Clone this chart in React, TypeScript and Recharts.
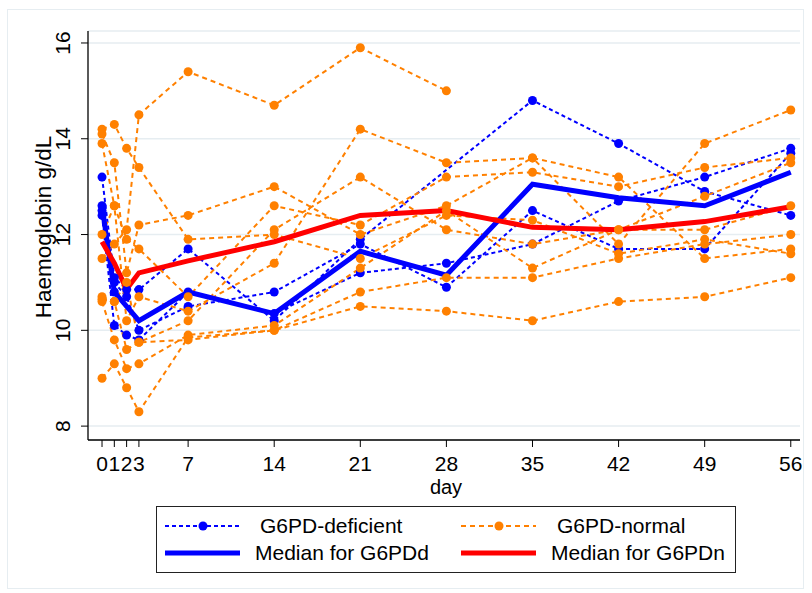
import React from 'react';
import { LineChart, Line, XAxis, YAxis, CartesianGrid, Legend } from 'recharts';

// ---- data ----
const days = [0, 1, 2, 3, 7, 14, 21, 28, 35, 42, 49, 56];
const xTicks = [0, 1, 2, 3, 7, 14, 21, 28, 35, 42, 49, 56];
const yTicks = [8, 10, 12, 14, 16];

// G6PD-deficient patients
const defA = [13.2, 11.1, 10.85, 10.85, 11.7, 10.2, 11.9, null, 14.8, 13.9, 12.9, 12.4];
const defB = [12.6, 11.0, 10.7, 10.0, 10.5, 10.8, 11.8, 10.9, 12.5, 11.7, 11.7, 13.7];
const defC = [12.4, 10.1, 9.9, 9.8, 10.8, 10.35, 11.2, 11.4, 11.8, 12.7, 13.2, 13.8];
const defD = [12.5, 10.8, null, null, null, null, null, null, null, null, null, null];

// G6PD-normal patients
const norA = [11.5, 11.8, 12.1, 14.5, 15.4, 14.7, 15.9, 15.0, null, null, null, null];
const norB = [14.2, 14.3, 13.8, 13.4, 11.9, 12.0, 11.5, 12.4, 12.3, 11.6, 11.9, 11.6];
const norC = [14.1, 13.5, 11.2, 12.2, 12.4, 13.0, 12.0, 12.6, 13.6, 13.2, 11.5, 11.7];
const norD = [13.9, 12.6, 11.9, 11.7, 10.7, 12.6, 12.2, 13.2, 13.3, 13.0, 13.4, 13.6];
const norE = [12.0, 12.6, 10.2, 10.7, 10.4, 11.4, 14.2, 13.5, 13.6, 11.8, 13.9, 14.6];
const norF = [10.7, 10.6, 9.6, 9.75, 10.2, 12.1, 13.2, 12.1, 11.8, 12.1, 12.8, 13.5];
const norG = [10.6, 9.8, 9.2, 9.3, 9.9, 10.1, 11.3, 12.5, 11.3, 12.1, 12.1, 12.6];
const norH = [9.0, 9.3, 8.8, 8.3, 9.85, 10.0, 10.8, 11.1, 11.1, 11.5, 11.8, 12.0];
const norI = [10.65, 10.6, 11.0, 9.75, 9.8, 10.0, 10.5, 10.4, 10.2, 10.6, 10.7, 11.1];

// medians
const medDef = [12.6, 10.8, 10.5, 10.2, 10.8, 10.35, 11.65, 11.15, 13.05, 12.77, 12.6, 13.3];
const medNor = [11.85, 11.4, 10.86, 11.2, 11.45, 11.85, 12.4, 12.5, 12.15, 12.1, 12.27, 12.58];

const defSeries = { defA, defB, defC, defD };
const norSeries = { norA, norB, norC, norD, norE, norF, norG, norH, norI };

const data = days.map((d, i) => {
  const row: any = { day: d, medDef: medDef[i], medNor: medNor[i] };
  Object.entries(defSeries).forEach(([k, v]) => (row[k] = v[i]));
  Object.entries(norSeries).forEach(([k, v]) => (row[k] = v[i]));
  return row;
});

const FONT = '"Liberation Sans", Arial, Helvetica, sans-serif';
const BLUE = '#0000ff';
const ORANGE = '#ff8000';
const RED = '#ff0000';

const XTick = (props: any) => {
  const { x, y, payload } = props;
  return (
    <text x={x} y={y + 22} textAnchor="middle" fontSize={21} fontFamily={FONT} fill="#000">
      {payload.value}
    </text>
  );
};

const YTick = (props: any) => {
  const { x, y, payload } = props;
  const tx = x - 9;
  return (
    <text x={tx} y={y} transform={`rotate(-90 ${tx} ${y})`} textAnchor="middle" fontSize={21} fontFamily={FONT} fill="#000">
      {payload.value}
    </text>
  );
};

const LegendBox = () => (
  <div style={{ width: 580, height: 67, boxSizing: 'border-box', border: '1px solid #222', background: '#fff' }}>
    <svg width={578} height={65} style={{ display: 'block' }}>
      <g fontFamily={FONT} fontSize={21} fill="#000">
        <line x1={8} x2={83} y1={19} y2={19} stroke={BLUE} strokeWidth={2} strokeDasharray="4 3" />
        <circle cx={46} cy={19} r={4.5} fill={BLUE} />
        <text x={103} y={26}>G6PD-deficient</text>
        <line x1={304} x2={379} y1={19} y2={19} stroke={ORANGE} strokeWidth={2} strokeDasharray="5 4" />
        <circle cx={342} cy={19} r={4.5} fill={ORANGE} />
        <text x={400} y={26}>G6PD-normal</text>
        <line x1={8} x2={83} y1={46} y2={46} stroke={BLUE} strokeWidth={5} />
        <text x={98} y={53}>Median for G6PDd</text>
        <line x1={304} x2={379} y1={46} y2={46} stroke={RED} strokeWidth={5} />
        <text x={394} y={53}>Median for G6PDn</text>
      </g>
    </svg>
  </div>
);

export default function App() {
  return (
    <div style={{ position: 'absolute', left: 0, top: 0, width: 812, height: 593, background: '#fff' }}>
      <div style={{ position: 'absolute', left: 7, top: 9, width: 797, height: 580, border: '1.5px solid #e6edf1', boxSizing: 'border-box' }} />
      <LineChart width={812} height={593} data={data} margin={{ top: 31, right: 12, bottom: 113, left: 38 }}>
        <CartesianGrid vertical={false} stroke="#e6edf1" strokeWidth={1.5} />
        <XAxis
          dataKey="day"
          type="number"
          domain={[-1.14, 56.75]}
          ticks={xTicks}
          interval={0}
          allowDataOverflow
          height={40}
          tickSize={7}
          tick={<XTick />}
          stroke="#000"
          tickLine={{ stroke: '#000' }}
          axisLine={{ stroke: '#000', strokeWidth: 1.3 }}
          label={{
            content: () => (
              <text x={446} y={494} textAnchor="middle" fontSize={20} fontFamily={FONT} fill="#000">day</text>
            ),
          }}
        />
        <YAxis
          type="number"
          domain={[7.71, 16.25]}
          ticks={yTicks}
          interval={0}
          allowDataOverflow
          width={50}
          tickSize={7}
          tick={<YTick />}
          stroke="#000"
          tickLine={{ stroke: '#000' }}
          axisLine={{ stroke: '#000', strokeWidth: 1.3 }}
          label={{
            content: () => (
              <text x={51} y={227} transform="rotate(-90 51 227)" textAnchor="middle" fontSize={22.5} fontFamily={FONT} fill="#000">
                Haemoglobin g/dL
              </text>
            ),
          }}
        />
        <Legend
          layout="horizontal"
          verticalAlign="middle"
          align="center"
          content={() => <LegendBox />}
          wrapperStyle={{ left: 156, top: 506, width: 580, height: 67 }}
        />
        {Object.keys(defSeries).map((k) => (
          <Line
            key={k}
            dataKey={k}
            stroke={BLUE}
            strokeWidth={2}
            strokeDasharray="4 3"
            dot={{ r: 4.5, fill: BLUE, stroke: 'none', strokeWidth: 0 }}
            connectNulls
            isAnimationActive={false}
            legendType="none"
          />
        ))}
        {Object.keys(norSeries).map((k) => (
          <Line
            key={k}
            dataKey={k}
            stroke={ORANGE}
            strokeWidth={2}
            strokeDasharray="5 4"
            dot={{ r: 4.5, fill: ORANGE, stroke: 'none', strokeWidth: 0 }}
            connectNulls
            isAnimationActive={false}
            legendType="none"
          />
        ))}
        <Line dataKey="medDef" stroke={BLUE} strokeWidth={5} dot={false} isAnimationActive={false} />
        <Line dataKey="medNor" stroke={RED} strokeWidth={5} dot={false} isAnimationActive={false} />
      </LineChart>
    </div>
  );
}
